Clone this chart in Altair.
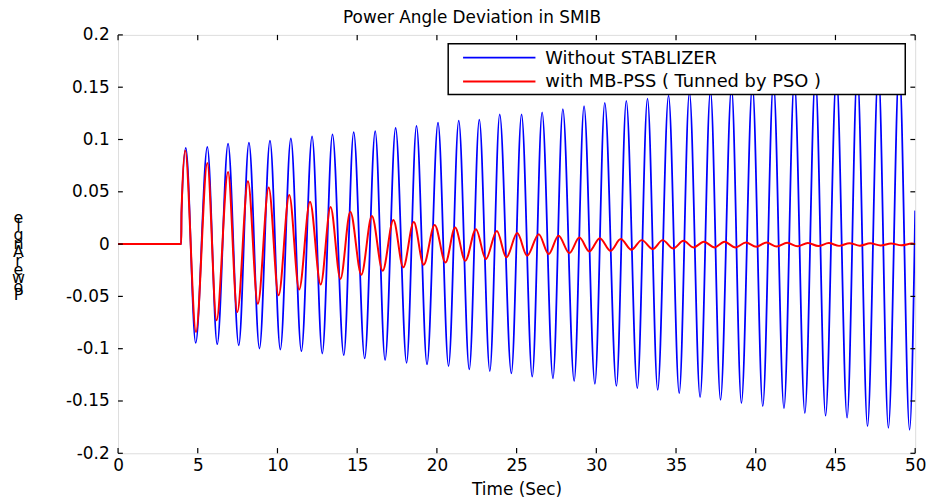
import altair as alt
import pandas as pd

# ---------------- data ----------------
onset_t = [0.0, 3.96, 3.98]
onset_v = [0.0, 0.0, 0.03]

blue_peak_t = [4.25, 5.60, 6.90, 8.21, 9.53, 10.84, 12.17, 13.45, 14.78, 16.13,
               17.41, 18.72, 20.07, 21.37, 22.66, 23.94, 25.31, 26.60, 27.90, 29.23,
               30.53, 31.88, 33.21, 34.53, 35.84, 37.16, 38.48, 39.79, 41.11, 42.42,
               43.74, 45.06, 46.37, 47.69, 49.00]
blue_peak_v = [0.092, 0.093, 0.096, 0.097, 0.099, 0.101, 0.103, 0.105, 0.107, 0.108,
               0.111, 0.113, 0.116, 0.118, 0.119, 0.124, 0.124, 0.126, 0.129, 0.132,
               0.135, 0.137, 0.139, 0.142, 0.145, 0.147, 0.150, 0.152, 0.155, 0.157,
               0.160, 0.162, 0.165, 0.167, 0.170]
blue_trough_t = [4.87, 6.22, 7.57, 8.87, 10.18, 11.50, 12.81, 14.16, 15.47, 16.75,
                 18.10, 19.38, 20.73, 22.03, 23.32, 24.67, 25.98, 27.28, 28.61, 29.91,
                 31.26, 32.57, 33.85, 35.20, 36.51, 37.79, 39.10, 40.44, 41.77, 43.08,
                 44.38, 45.73, 47.01, 48.32, 49.65]
blue_trough_v = [-0.0945, -0.0957, -0.0967, -0.0998, -0.1008, -0.1024, -0.1046, -0.1062,
                 -0.1093, -0.1109, -0.1135, -0.1150, -0.1166, -0.1198, -0.1214, -0.1236,
                 -0.1268, -0.1283, -0.1309, -0.1337, -0.1356, -0.1378, -0.1394, -0.1426,
                 -0.1464, -0.149, -0.152, -0.155, -0.157, -0.1616, -0.164, -0.166,
                 -0.174, -0.1756, -0.1775]
blue_end_t = [50.0]
blue_end_v = [0.032]

red_peak_t = [4.21, 5.60, 6.90, 8.15, 9.45, 10.74, 12.04, 13.33, 14.57, 15.92,
              17.27, 18.55, 19.86, 21.14, 22.45, 23.76, 25.04, 26.39, 27.63, 28.94,
              30.22, 31.53, 32.85, 34.16, 35.47, 36.75, 38.04, 39.38, 40.67, 41.97,
              43.27, 44.58, 45.88, 47.18, 48.49, 49.79]
red_peak_v = [0.0894, 0.0776, 0.069, 0.060, 0.054, 0.0469, 0.0405, 0.0355, 0.031, 0.0269,
              0.0231, 0.0212, 0.0183, 0.0158, 0.0143, 0.0126, 0.0105, 0.0095, 0.0079, 0.0063,
              0.0057, 0.0048, 0.0038, 0.0038, 0.0031, 0.0022, 0.0022, 0.0015, 0.0015, 0.0012,
              0.0011, 0.0010, 0.0009, 0.0008, 0.0006, 0.0005]
red_trough_t = [4.89, 6.18, 7.48, 8.77, 10.07, 11.36, 12.71, 13.95, 15.26, 16.60,
                17.89, 19.17, 20.54, 21.78, 23.07, 24.36, 25.66, 27.01, 28.31, 29.56,
                30.89, 32.20, 33.54, 34.83, 36.09, 37.42, 38.72, 40.03, 41.32, 42.62,
                43.92, 45.23, 46.53, 47.83, 49.14]
red_trough_v = [-0.084, -0.0729, -0.065, -0.057, -0.049, -0.0434, -0.0387, -0.0333,
                -0.0292, -0.0254, -0.0222, -0.0197, -0.0175, -0.0159, -0.0143, -0.0127,
                -0.0111, -0.0095, -0.0086, -0.0070, -0.0064, -0.0054, -0.0048, -0.0042,
                -0.0032, -0.0032, -0.0032, -0.0026, -0.0023, -0.0021, -0.0019, -0.0017,
                -0.0015, -0.0013, -0.0011]
red_end_t = [50.0]
red_end_v = [0.0]

x_ticks = [0, 5, 10, 15, 20, 25, 30, 35, 40, 45, 50]
y_ticks = [-0.2, -0.15, -0.1, -0.05, 0, 0.05, 0.1, 0.15, 0.2]

series_names = ["Without STABLIZER", "with MB-PSS ( Tunned by PSO )"]
series_colors = ["#0000FF", "#FF0000"]

title_text = "Power Angle Deviation in SMIB"
x_title = "Time (Sec)"
y_title_chars = ["e", "l", "g", "n", "A", "r", "e", "w", "o", "P"]

FONT = "DejaVu Sans"


def build(t_lists, v_lists):
    t_all, v_all = [], []
    for tl, vl in zip(t_lists, v_lists):
        t_all += tl
        v_all += vl
    df = pd.DataFrame({"t": t_all, "v": v_all}).sort_values("t", kind="stable")
    return df.reset_index(drop=True)


blue_df = build([onset_t, blue_peak_t, blue_trough_t, blue_end_t],
                [onset_v, blue_peak_v, blue_trough_v, blue_end_v])
red_df = build([onset_t, red_peak_t, red_trough_t, red_end_t],
               [onset_v, red_peak_v, red_trough_v, red_end_v])

xscale = alt.Scale(domain=[0, 50], nice=False, zero=False)
yscale = alt.Scale(domain=[-0.2, 0.2], nice=False, zero=False)

xaxis = alt.Axis(values=x_ticks, title=x_title, grid=False, ticks=False, domain=False,
                 labelFont=FONT, labelFontSize=17, labelColor="black", labelPadding=4,
                 titleFont=FONT, titleFontSize=17, titleFontWeight="normal", titleColor="black",
                 titleY=42, titleBaseline="alphabetic", labelFlush=False)
yaxis = alt.Axis(values=y_ticks, title=y_title_chars, grid=False, ticks=False, domain=False,
                 labelFont=FONT, labelFontSize=17, labelColor="black", labelPadding=9,
                 labelExpr="replace(format(datum.value, '~g'), '\u2212', '-')",
                 titleFont=FONT, titleFontSize=16, titleFontWeight="normal", titleColor="black",
                 titleAngle=0, titleAlign="center", titleBaseline="alphabetic",
                 titleX=-101, titleY=189, titleLineHeight=8.7, labelFlush=False)

blue = alt.Chart(blue_df).mark_line(color=series_colors[0], strokeWidth=1.8, clip=True,
                                    interpolate="monotone").encode(
    x=alt.X("t:Q", scale=xscale, axis=xaxis),
    y=alt.Y("v:Q", scale=yscale, axis=yaxis),
    order="t:Q",
)
red = alt.Chart(red_df).mark_line(color=series_colors[1], strokeWidth=2.0, clip=True,
                                  interpolate="monotone").encode(
    x=alt.X("t:Q", scale=xscale),
    y=alt.Y("v:Q", scale=yscale),
    order="t:Q",
)

xt = pd.DataFrame({"t": x_ticks})
yt = pd.DataFrame({"v": y_ticks})
one = pd.DataFrame({"k": [0]})
tick_style = dict(color="black", strokeWidth=1.2)
tb = alt.Chart(xt).mark_rule(**tick_style).encode(
    x=alt.X("t:Q", scale=xscale), y=alt.datum(-0.2), y2=alt.datum(-0.195))
tt = alt.Chart(xt).mark_rule(**tick_style).encode(
    x=alt.X("t:Q", scale=xscale), y=alt.datum(0.2), y2=alt.datum(0.195))
tl = alt.Chart(yt).mark_rule(**tick_style).encode(
    y=alt.Y("v:Q", scale=yscale), x=alt.datum(0), x2=alt.datum(0.3))
tr = alt.Chart(yt).mark_rule(**tick_style).encode(
    y=alt.Y("v:Q", scale=yscale), x=alt.datum(50), x2=alt.datum(49.7))

# legend box (drawn on top of the curves)
leg_box = alt.Chart(one).mark_rect(fill="white", stroke="black", strokeWidth=1.5).encode(
    x=alt.value(333), x2=alt.value(794), y=alt.value(9), y2=alt.value(60))
leg_r1 = alt.Chart(one).mark_rule(color=series_colors[0], strokeWidth=1.8).encode(
    x=alt.value(348), x2=alt.value(421), y=alt.value(23))
leg_r2 = alt.Chart(one).mark_rule(color=series_colors[1], strokeWidth=2.0).encode(
    x=alt.value(348), x2=alt.value(421), y=alt.value(47))
leg_t1 = alt.Chart(one).mark_text(text=series_names[0], font=FONT, fontSize=18, align="left",
                                  baseline="alphabetic", color="black",
                                  fontWeight="normal").encode(
    x=alt.value(431), y=alt.value(29))
leg_t2 = alt.Chart(one).mark_text(text=series_names[1], font=FONT, fontSize=18, align="left",
                                  baseline="alphabetic", color="black",
                                  fontWeight="normal").encode(
    x=alt.value(431), y=alt.value(53))

chart = alt.layer(blue, red, tb, tt, tl, tr, leg_box, leg_r1, leg_r2, leg_t1, leg_t2).properties(
    width=804, height=422,
    title=alt.TitleParams(title_text, font=FONT, fontSize=17, fontWeight="normal",
                          color="black", offset=-1, dx=-45),
    autosize=alt.AutoSizeParams(type="none"),
    padding={"left": 111, "top": 25, "right": 20, "bottom": 48},
).configure_view(stroke="black", strokeWidth=1.5).configure(background="white")

chart.save("out.html", embed_options={"renderer": "svg", "actions": False})
